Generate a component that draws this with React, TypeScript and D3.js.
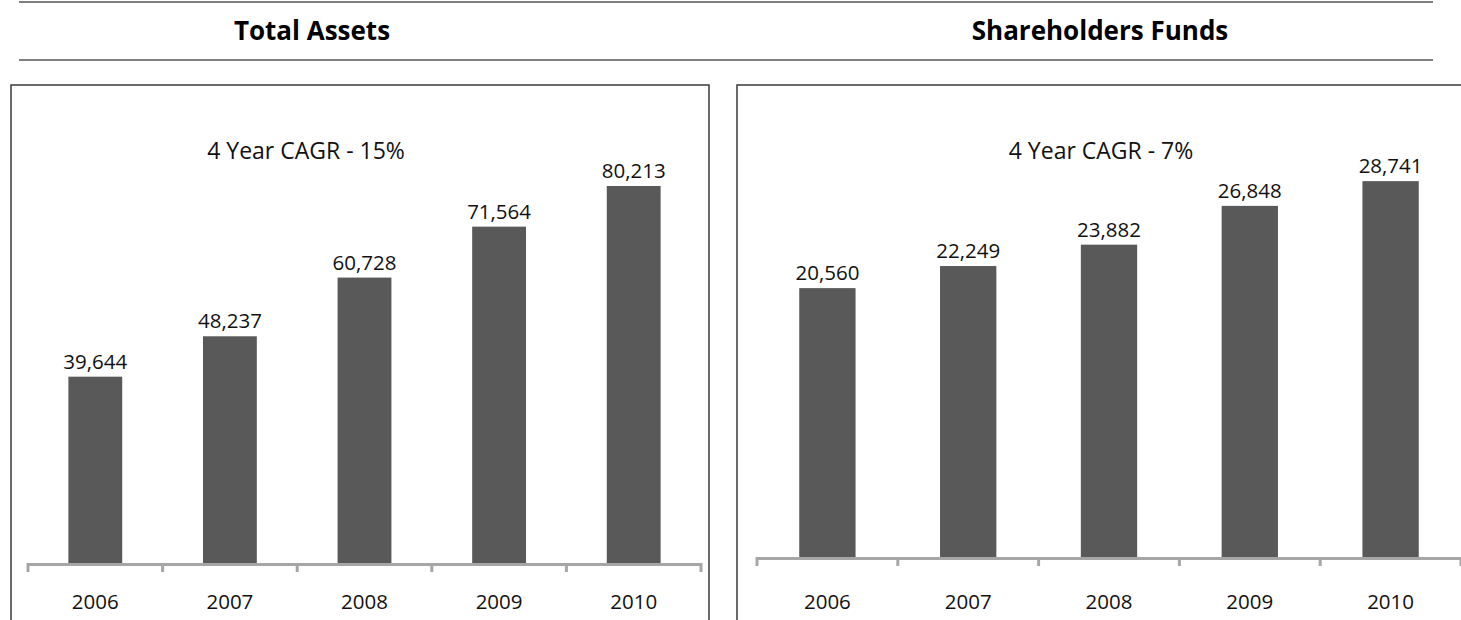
import React from "react";
import * as d3 from "d3";

const years = ["2006", "2007", "2008", "2009", "2010"];
const totalAssets = [39644, 48237, 60728, 71564, 80213];
const shareholdersFunds = [20560, 22249, 23882, 26848, 28741];
const titles = ["Total Assets", "Shareholders Funds"];
const cagrLabels = ["4 Year CAGR - 15%", "4 Year CAGR - 7%"];

const W = 1461;
const H = 620;
const FONT = "'Open Sans', 'Noto Sans', sans-serif";
const BAR = "#595959";
const AXIS = "#a6a6a6";
const LABEL_SIZE = 20.5;

type PanelProps = {
  values: number[];
  x0: number;
  x1: number;
  base: number;
  yMax: number;
  yTop: number;
  cagr: string;
  cagrX: number;
};

function Panel({ values, x0, x1, base, yMax, yTop, cagr, cagrX }: PanelProps) {
  const x = d3.scaleBand<string>().domain(years).range([x0, x1]).paddingInner(0.6).paddingOuter(0.3);
  const y = d3.scaleLinear().domain([0, yMax]).range([base, yTop]);
  const step = x.step();
  const tickXs = d3.range(years.length + 1).map((i) => x0 + i * step);
  const fmt = d3.format(",");
  return (
    <g>
      {values.map((v, i) => (
        <rect key={"b" + i} x={x(years[i])} y={y(v)} width={x.bandwidth()} height={base - y(v)} fill={BAR} />
      ))}
      {values.map((v, i) => (
        <text key={"l" + i} x={(x(years[i]) as number) + x.bandwidth() / 2} y={y(v) - 8} textAnchor="middle" fontSize={LABEL_SIZE} fontFamily={FONT} fill="#111">
          {fmt(v)}
        </text>
      ))}
      <line x1={x0} x2={x1} y1={base + 1.5} y2={base + 1.5} stroke={AXIS} strokeWidth={3} />
      {tickXs.map((tx, i) => (
        <line key={"t" + i} x1={tx} x2={tx} y1={base} y2={base + 9} stroke={AXIS} strokeWidth={3} />
      ))}
      {years.map((yr) => (
        <text key={yr} x={(x(yr) as number) + x.bandwidth() / 2} y={609} textAnchor="middle" fontSize={LABEL_SIZE} fontFamily={FONT} fill="#111">
          {yr}
        </text>
      ))}
      <text x={cagrX} y={159} textAnchor="middle" fontSize={23} fontFamily={FONT} fill="#111">
        {cagr}
      </text>
    </g>
  );
}

export default function App() {
  return (
    <svg width={W} height={H} style={{ position: "absolute", left: 0, top: 0, background: "#fff" }}>
      <rect x={0} y={0} width={W} height={H} fill="#fff" />
      <line x1={19} x2={1433} y1={2} y2={2} stroke="#555" strokeWidth={1.5} />
      <line x1={19} x2={1433} y1={60} y2={60} stroke="#555" strokeWidth={1.5} />
      <text x={312} y={40} textAnchor="middle" fontSize={26} fontWeight={700} fontFamily={FONT} fill="#000">
        {titles[0]}
      </text>
      <text x={1100} y={40} textAnchor="middle" fontSize={26} fontWeight={700} fontFamily={FONT} fill="#000">
        {titles[1]}
      </text>
      <rect x={11} y={85} width={698} height={560} fill="none" stroke="#3a3a3a" strokeWidth={1.5} />
      <rect x={737} y={85} width={760} height={560} fill="none" stroke="#3a3a3a" strokeWidth={1.5} />
      <Panel values={totalAssets} x0={28} x1={701} base={563} yMax={90000} yTop={140} cagr={cagrLabels[0]} cagrX={306} />
      <Panel values={shareholdersFunds} x0={757} x1={1461} base={557} yMax={32000} yTop={138.5} cagr={cagrLabels[1]} cagrX={1101} />
    </svg>
  );
}
